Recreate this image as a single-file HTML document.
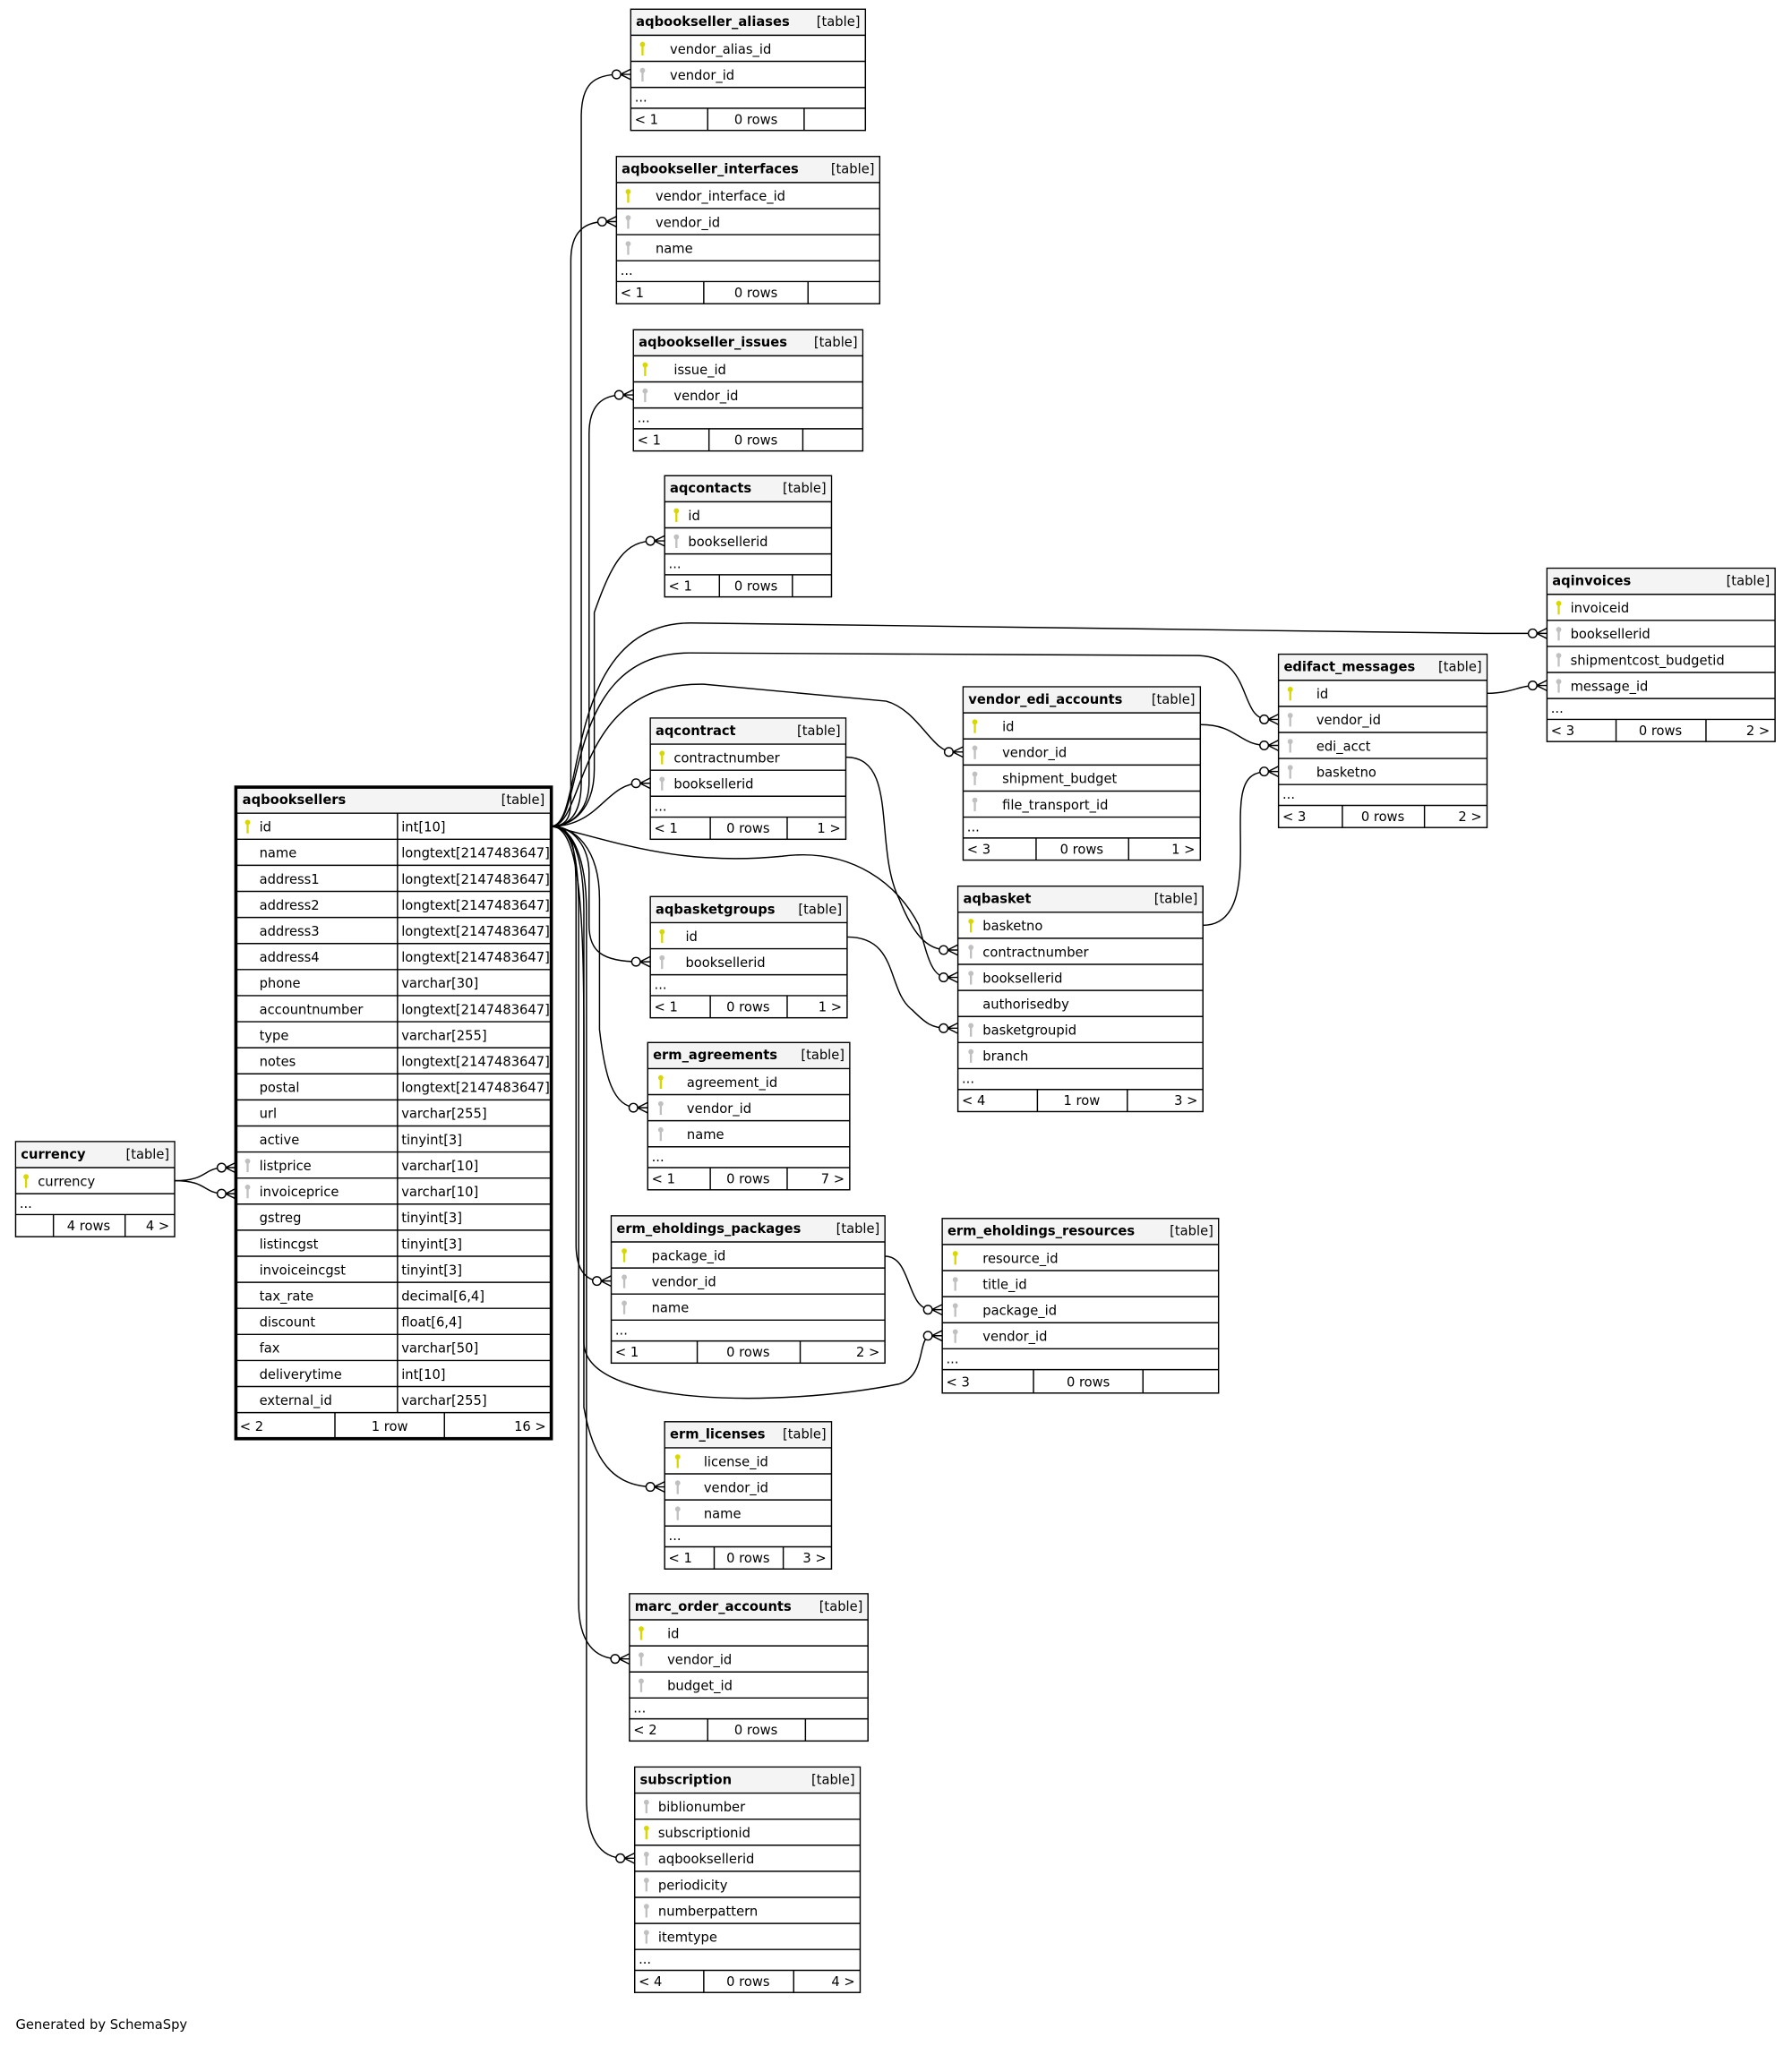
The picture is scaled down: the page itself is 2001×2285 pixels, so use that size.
<!DOCTYPE html>
<html><head><meta charset="utf-8"><style>
html,body{margin:0;padding:0;background:#fff;}
svg{display:block;}
text{font-family:"DejaVu Sans","Liberation Sans",sans-serif;font-size:10.1px;fill:#000;}
.b{font-weight:bold;}
.r{text-anchor:end;}
.m{text-anchor:middle;}
.h{fill:#f4f4f4;}
.t{fill:#fff;stroke:#000;stroke-width:1;}
.l{stroke:#000;stroke-width:1;fill:none;}
.c{stroke:#000;stroke-width:1;fill:none;}
</style></head><body>
<svg width="2001" height="2285" viewBox="0 0 1375 1570" xmlns="http://www.w3.org/2000/svg">
<defs>
<g id="pk"><circle cx="0" cy="-3" r="2" fill="#d8d800"/><rect x="-0.8" y="-2" width="1.6" height="7.5" fill="#d8d800"/></g>
<g id="fk"><circle cx="0" cy="-3" r="2" fill="#c0c0c0"/><rect x="-0.8" y="-2" width="1.6" height="7.5" fill="#c0c0c0"/></g>
<g id="cf"><path d="M-8,0 L0,-4 M-8,0 L0,0 M-8,0 L0,4" stroke="#000" stroke-width="1" fill="none"/><circle cx="-11" cy="0" r="3.3" fill="#fff" stroke="#000" stroke-width="1"/></g>
</defs>

<!-- connectors -->
<g class="c">
<path d="M423,634 C440,634 446,620 446,600 L446,90 C446,65 455,57 476,57"/>
<path d="M423,634 C440,634 438,620 438,600 L438,200 C438,178 448,170 465,170"/>
<path d="M423,634 C440,634 452,620 452,600 L452,333 C452,311 462,303 478,303"/>
<path d="M423,634 C440,634 456,620 456,590 L456,470 C470,430 480,415 502,415"/>
<path d="M423,634 C450,634 430,478 530,478 L1140,486 L1179,486"/>
<path d="M423,634 C450,634 430,500 530,501 L920,503 C962,505 950,552 973,552"/>
<path d="M423,634 C450,634 440,523 540,525 L680,538 C705,545 715,577 731,577"/>
<path d="M423,634 C460,634 465,601 491,601"/>
<path d="M423,634 C470,645 520,665 600,657 C655,650 690,680 705,710 C712,735 715,750 727,750"/>
<path d="M423,634 C440,634 452,650 452,670 L452,710 C452,730 462,738 491,738"/>
<path d="M423,634 C440,634 460,650 460,690 L460,790 C464,825 470,850 489,850"/>
<path d="M423,634 C440,634 442,650 442,690 L442,955 C442,975 450,983 461,983"/>
<path d="M423,634 C445,634 448,700 448,800 L448,1030 C448,1080 600,1080 690,1062 C712,1055 703,1025 715,1025"/>
<path d="M423,634 C440,634 448,660 448,700 L448,1080 C455,1120 470,1141 502,1141"/>
<path d="M423,634 C440,634 444,660 444,700 L444,1230 C444,1260 456,1273 475,1273"/>
<path d="M423,634 C440,634 450,660 450,700 L450,1380 C450,1410 460,1426 479,1426"/>
<path d="M649,581 C690,581 670,650 690,690 C700,715 710,729 727,729"/>
<path d="M650,719 C690,719 680,760 700,775 C710,785 715,789 727,789"/>
<path d="M923,710 C960,710 950,650 952,620 C953,598 960,592 973,592"/>
<path d="M921,556 C950,556 950,572 973,572"/>
<path d="M1141,532 C1160,532 1165,526 1179,526"/>
<path d="M679,964 C700,964 695,1005 715,1005"/>
<path d="M134,906 C160,906 155,896 173,896"/>
<path d="M134,906 C160,906 155,916 173,916"/>
</g>
<g>
<use href="#cf" x="484" y="57"/><use href="#cf" x="473" y="170"/><use href="#cf" x="486" y="303"/>
<use href="#cf" x="510" y="415"/><use href="#cf" x="1187" y="486"/><use href="#cf" x="981" y="552"/>
<use href="#cf" x="739" y="577"/><use href="#cf" x="499" y="601"/><use href="#cf" x="735" y="750"/>
<use href="#cf" x="499" y="738"/><use href="#cf" x="497" y="850"/><use href="#cf" x="469" y="983"/>
<use href="#cf" x="723" y="1025"/><use href="#cf" x="510" y="1141"/><use href="#cf" x="483" y="1273"/>
<use href="#cf" x="487" y="1426"/><use href="#cf" x="735" y="729"/><use href="#cf" x="735" y="789"/>
<use href="#cf" x="981" y="592"/><use href="#cf" x="981" y="572"/><use href="#cf" x="1187" y="526"/>
<use href="#cf" x="723" y="1005"/><use href="#cf" x="181" y="896"/><use href="#cf" x="181" y="916"/>
</g>

<!-- aqbookseller_aliases -->
<g>
<rect class="t" x="484" y="7" width="180" height="93"/>
<rect class="h" x="484.5" y="7.5" width="179" height="19.5"/>
<path class="l" d="M484,27H664M484,47H664M484,67H664M484,83H664M543,83V100M617,83V100"/>
<text class="b" x="488" y="20">aqbookseller_aliases</text><text class="r" x="660" y="20">[table]</text>
<use href="#pk" x="493" y="37"/><text x="514" y="41">vendor_alias_id</text>
<use href="#fk" x="493" y="57"/><text x="514" y="61">vendor_id</text>
<text x="487" y="78">...</text>
<text x="487" y="95">&lt; 1</text><text class="m" x="580" y="95">0 rows</text>
</g>

<!-- aqbookseller_interfaces -->
<g>
<rect class="t" x="473" y="120" width="202" height="113"/>
<rect class="h" x="473.5" y="120.5" width="201" height="19.5"/>
<path class="l" d="M473,140H675M473,160H675M473,180H675M473,200H675M473,216H675M540,216V233M620,216V233"/>
<text class="b" x="477" y="133">aqbookseller_interfaces</text><text class="r" x="671" y="133">[table]</text>
<use href="#pk" x="482" y="150"/><text x="503" y="154">vendor_interface_id</text>
<use href="#fk" x="482" y="170"/><text x="503" y="174">vendor_id</text>
<use href="#fk" x="482" y="190"/><text x="503" y="194">name</text>
<text x="476" y="211">...</text>
<text x="476" y="228">&lt; 1</text><text class="m" x="580" y="228">0 rows</text>
</g>

<!-- aqbookseller_issues -->
<g>
<rect class="t" x="486" y="253" width="176" height="93"/>
<rect class="h" x="486.5" y="253.5" width="175" height="19.5"/>
<path class="l" d="M486,273H662M486,293H662M486,313H662M486,329H662M544,329V346M616,329V346"/>
<text class="b" x="490" y="266">aqbookseller_issues</text><text class="r" x="658" y="266">[table]</text>
<use href="#pk" x="495" y="283"/><text x="517" y="287">issue_id</text>
<use href="#fk" x="495" y="303"/><text x="517" y="307">vendor_id</text>
<text x="489" y="324">...</text>
<text x="489" y="341">&lt; 1</text><text class="m" x="580" y="341">0 rows</text>
</g>

<!-- aqcontacts -->
<g>
<rect class="t" x="510" y="365" width="128" height="93"/>
<rect class="h" x="510.5" y="365.5" width="127" height="19.5"/>
<path class="l" d="M510,385H638M510,405H638M510,425H638M510,441H638M552,441V458M608,441V458"/>
<text class="b" x="514" y="378">aqcontacts</text><text class="r" x="634" y="378">[table]</text>
<use href="#pk" x="519" y="395"/><text x="528" y="399">id</text>
<use href="#fk" x="519" y="415"/><text x="528" y="419">booksellerid</text>
<text x="513" y="436">...</text>
<text x="513" y="453">&lt; 1</text><text class="m" x="580" y="453">0 rows</text>
</g>

<!-- aqinvoices -->
<g>
<rect class="t" x="1187" y="436" width="175" height="133"/>
<rect class="h" x="1187.5" y="436.5" width="174" height="19.5"/>
<path class="l" d="M1187,456H1362M1187,476H1362M1187,496H1362M1187,516H1362M1187,536H1362M1187,552H1362M1240,552V569M1309,552V569"/>
<text class="b" x="1191" y="449">aqinvoices</text><text class="r" x="1358" y="449">[table]</text>
<use href="#pk" x="1196" y="466"/><text x="1205" y="470">invoiceid</text>
<use href="#fk" x="1196" y="486"/><text x="1205" y="490">booksellerid</text>
<use href="#fk" x="1196" y="506"/><text x="1205" y="510">shipmentcost_budgetid</text>
<use href="#fk" x="1196" y="526"/><text x="1205" y="530">message_id</text>
<text x="1190" y="547">...</text>
<text x="1190" y="564">&lt; 3</text><text class="m" x="1274" y="564">0 rows</text><text class="r" x="1358" y="564">2 &gt;</text>
</g>

<!-- edifact_messages -->
<g>
<rect class="t" x="981" y="502" width="160" height="133"/>
<rect class="h" x="981.5" y="502.5" width="159" height="19.5"/>
<path class="l" d="M981,522H1141M981,542H1141M981,562H1141M981,582H1141M981,602H1141M981,618H1141M1030,618V635M1093,618V635"/>
<text class="b" x="985" y="515">edifact_messages</text><text class="r" x="1137" y="515">[table]</text>
<use href="#pk" x="990" y="532"/><text x="1010" y="536">id</text>
<use href="#fk" x="990" y="552"/><text x="1010" y="556">vendor_id</text>
<use href="#fk" x="990" y="572"/><text x="1010" y="576">edi_acct</text>
<use href="#fk" x="990" y="592"/><text x="1010" y="596">basketno</text>
<text x="984" y="613">...</text>
<text x="984" y="630">&lt; 3</text><text class="m" x="1061" y="630">0 rows</text><text class="r" x="1137" y="630">2 &gt;</text>
</g>

<!-- vendor_edi_accounts -->
<g>
<rect class="t" x="739" y="527" width="182" height="133"/>
<rect class="h" x="739.5" y="527.5" width="181" height="19.5"/>
<path class="l" d="M739,547H921M739,567H921M739,587H921M739,607H921M739,627H921M739,643H921M795,643V660M866,643V660"/>
<text class="b" x="743" y="540">vendor_edi_accounts</text><text class="r" x="917" y="540">[table]</text>
<use href="#pk" x="748" y="557"/><text x="769" y="561">id</text>
<use href="#fk" x="748" y="577"/><text x="769" y="581">vendor_id</text>
<use href="#fk" x="748" y="597"/><text x="769" y="601">shipment_budget</text>
<use href="#fk" x="748" y="617"/><text x="769" y="621">file_transport_id</text>
<text x="742" y="638">...</text>
<text x="742" y="655">&lt; 3</text><text class="m" x="830" y="655">0 rows</text><text class="r" x="917" y="655">1 &gt;</text>
</g>

<!-- aqcontract -->
<g>
<rect class="t" x="499" y="551" width="150" height="93"/>
<rect class="h" x="499.5" y="551.5" width="149" height="19.5"/>
<path class="l" d="M499,571H649M499,591H649M499,611H649M499,627H649M545,627V644M604,627V644"/>
<text class="b" x="503" y="564">aqcontract</text><text class="r" x="645" y="564">[table]</text>
<use href="#pk" x="508" y="581"/><text x="517" y="585">contractnumber</text>
<use href="#fk" x="508" y="601"/><text x="517" y="605">booksellerid</text>
<text x="502" y="622">...</text>
<text x="502" y="639">&lt; 1</text><text class="m" x="574" y="639">0 rows</text><text class="r" x="645" y="639">1 &gt;</text>
</g>

<!-- aqbooksellers -->
<g>
<rect x="181" y="604" width="242" height="500" fill="#fff" stroke="#000" stroke-width="2.5"/>
<rect class="h" x="182.3" y="605.3" width="239.4" height="18.7"/>
<path class="l" d="M181,624H423M181,644H423M181,664H423M181,684H423M181,704H423M181,724H423M181,744H423M181,764H423M181,784H423M181,804H423M181,824H423M181,844H423M181,864H423M181,884H423M181,904H423M181,924H423M181,944H423M181,964H423M181,984H423M181,1004H423M181,1024H423M181,1044H423M181,1064H423M181,1084H423M305,624V1084M257,1084V1104M341,1084V1104"/>
<text class="b" x="186" y="617">aqbooksellers</text><text class="r" x="418" y="617">[table]</text>
<use href="#pk" x="190" y="634"/><text x="199" y="638">id</text><text x="308" y="638">int[10]</text>
<text x="199" y="658">name</text><text x="308" y="658">longtext[2147483647]</text>
<text x="199" y="678">address1</text><text x="308" y="678">longtext[2147483647]</text>
<text x="199" y="698">address2</text><text x="308" y="698">longtext[2147483647]</text>
<text x="199" y="718">address3</text><text x="308" y="718">longtext[2147483647]</text>
<text x="199" y="738">address4</text><text x="308" y="738">longtext[2147483647]</text>
<text x="199" y="758">phone</text><text x="308" y="758">varchar[30]</text>
<text x="199" y="778">accountnumber</text><text x="308" y="778">longtext[2147483647]</text>
<text x="199" y="798">type</text><text x="308" y="798">varchar[255]</text>
<text x="199" y="818">notes</text><text x="308" y="818">longtext[2147483647]</text>
<text x="199" y="838">postal</text><text x="308" y="838">longtext[2147483647]</text>
<text x="199" y="858">url</text><text x="308" y="858">varchar[255]</text>
<text x="199" y="878">active</text><text x="308" y="878">tinyint[3]</text>
<use href="#fk" x="190" y="894"/><text x="199" y="898">listprice</text><text x="308" y="898">varchar[10]</text>
<use href="#fk" x="190" y="914"/><text x="199" y="918">invoiceprice</text><text x="308" y="918">varchar[10]</text>
<text x="199" y="938">gstreg</text><text x="308" y="938">tinyint[3]</text>
<text x="199" y="958">listincgst</text><text x="308" y="958">tinyint[3]</text>
<text x="199" y="978">invoiceincgst</text><text x="308" y="978">tinyint[3]</text>
<text x="199" y="998">tax_rate</text><text x="308" y="998">decimal[6,4]</text>
<text x="199" y="1018">discount</text><text x="308" y="1018">float[6,4]</text>
<text x="199" y="1038">fax</text><text x="308" y="1038">varchar[50]</text>
<text x="199" y="1058">deliverytime</text><text x="308" y="1058">int[10]</text>
<text x="199" y="1078">external_id</text><text x="308" y="1078">varchar[255]</text>
<text x="184" y="1098">&lt; 2</text><text class="m" x="299" y="1098">1 row</text><text class="r" x="419" y="1098">16 &gt;</text>
</g>

<!-- aqbasket -->
<g>
<rect class="t" x="735" y="680" width="188" height="173"/>
<rect class="h" x="735.5" y="680.5" width="187" height="19.5"/>
<path class="l" d="M735,700H923M735,720H923M735,740H923M735,760H923M735,780H923M735,800H923M735,820H923M735,836H923M796,836V853M865,836V853"/>
<text class="b" x="739" y="693">aqbasket</text><text class="r" x="919" y="693">[table]</text>
<use href="#pk" x="745" y="710"/><text x="754" y="714">basketno</text>
<use href="#fk" x="745" y="730"/><text x="754" y="734">contractnumber</text>
<use href="#fk" x="745" y="750"/><text x="754" y="754">booksellerid</text>
<text x="754" y="774">authorisedby</text>
<use href="#fk" x="745" y="790"/><text x="754" y="794">basketgroupid</text>
<use href="#fk" x="745" y="810"/><text x="754" y="814">branch</text>
<text x="738" y="831">...</text>
<text x="738" y="848">&lt; 4</text><text class="m" x="830" y="848">1 row</text><text class="r" x="919" y="848">3 &gt;</text>
</g>

<!-- aqbasketgroups -->
<g>
<rect class="t" x="499" y="688" width="151" height="93"/>
<rect class="h" x="499.5" y="688.5" width="150" height="19.5"/>
<path class="l" d="M499,708H650M499,728H650M499,748H650M499,764H650M545,764V781M604,764V781"/>
<text class="b" x="503" y="701">aqbasketgroups</text><text class="r" x="646" y="701">[table]</text>
<use href="#pk" x="508" y="718"/><text x="526" y="722">id</text>
<use href="#fk" x="508" y="738"/><text x="526" y="742">booksellerid</text>
<text x="502" y="759">...</text>
<text x="502" y="776">&lt; 1</text><text class="m" x="574" y="776">0 rows</text><text class="r" x="646" y="776">1 &gt;</text>
</g>

<!-- erm_agreements -->
<g>
<rect class="t" x="497" y="800" width="155" height="113"/>
<rect class="h" x="497.5" y="800.5" width="154" height="19.5"/>
<path class="l" d="M497,820H652M497,840H652M497,860H652M497,880H652M497,896H652M545,896V913M604,896V913"/>
<text class="b" x="501" y="813">erm_agreements</text><text class="r" x="648" y="813">[table]</text>
<use href="#pk" x="507" y="830"/><text x="527" y="834">agreement_id</text>
<use href="#fk" x="507" y="850"/><text x="527" y="854">vendor_id</text>
<use href="#fk" x="507" y="870"/><text x="527" y="874">name</text>
<text x="500" y="891">...</text>
<text x="500" y="908">&lt; 1</text><text class="m" x="574" y="908">0 rows</text><text class="r" x="648" y="908">7 &gt;</text>
</g>

<!-- currency -->
<g>
<rect class="t" x="12" y="876" width="122" height="73"/>
<rect class="h" x="12.5" y="876.5" width="121" height="19.5"/>
<path class="l" d="M12,896H134M12,916H134M12,932H134M41,932V949M96,932V949"/>
<text class="b" x="16" y="889">currency</text><text class="r" x="130" y="889">[table]</text>
<use href="#pk" x="20" y="906"/><text x="29" y="910">currency</text>
<text x="15" y="927">...</text>
<text class="m" x="68" y="944">4 rows</text><text class="r" x="130" y="944">4 &gt;</text>
</g>

<!-- erm_eholdings_packages -->
<g>
<rect class="t" x="469" y="933" width="210" height="113"/>
<rect class="h" x="469.5" y="933.5" width="209" height="19.5"/>
<path class="l" d="M469,953H679M469,973H679M469,993H679M469,1013H679M469,1029H679M535,1029V1046M614,1029V1046"/>
<text class="b" x="473" y="946">erm_eholdings_packages</text><text class="r" x="675" y="946">[table]</text>
<use href="#pk" x="479" y="963"/><text x="500" y="967">package_id</text>
<use href="#fk" x="479" y="983"/><text x="500" y="987">vendor_id</text>
<use href="#fk" x="479" y="1003"/><text x="500" y="1007">name</text>
<text x="472" y="1024">...</text>
<text x="472" y="1041">&lt; 1</text><text class="m" x="574" y="1041">0 rows</text><text class="r" x="675" y="1041">2 &gt;</text>
</g>

<!-- erm_eholdings_resources -->
<g>
<rect class="t" x="723" y="935" width="212" height="134"/>
<rect class="h" x="723.5" y="935.5" width="211" height="19.5"/>
<path class="l" d="M723,955H935M723,975H935M723,995H935M723,1015H935M723,1035H935M723,1051H935M793,1051V1069M877,1051V1069"/>
<text class="b" x="727" y="948">erm_eholdings_resources</text><text class="r" x="931" y="948">[table]</text>
<use href="#pk" x="733" y="965"/><text x="754" y="969">resource_id</text>
<use href="#fk" x="733" y="985"/><text x="754" y="989">title_id</text>
<use href="#fk" x="733" y="1005"/><text x="754" y="1009">package_id</text>
<use href="#fk" x="733" y="1025"/><text x="754" y="1029">vendor_id</text>
<text x="726" y="1046">...</text>
<text x="726" y="1064">&lt; 3</text><text class="m" x="835" y="1064">0 rows</text>
</g>

<!-- erm_licenses -->
<g>
<rect class="t" x="510" y="1091" width="128" height="113"/>
<rect class="h" x="510.5" y="1091.5" width="127" height="19.5"/>
<path class="l" d="M510,1111H638M510,1131H638M510,1151H638M510,1171H638M510,1187H638M548,1187V1204M601,1187V1204"/>
<text class="b" x="514" y="1104">erm_licenses</text><text class="r" x="634" y="1104">[table]</text>
<use href="#pk" x="520" y="1121"/><text x="540" y="1125">license_id</text>
<use href="#fk" x="520" y="1141"/><text x="540" y="1145">vendor_id</text>
<use href="#fk" x="520" y="1161"/><text x="540" y="1165">name</text>
<text x="513" y="1182">...</text>
<text x="513" y="1199">&lt; 1</text><text class="m" x="574" y="1199">0 rows</text><text class="r" x="634" y="1199">3 &gt;</text>
</g>

<!-- marc_order_accounts -->
<g>
<rect class="t" x="483" y="1223" width="183" height="113"/>
<rect class="h" x="483.5" y="1223.5" width="182" height="19.5"/>
<path class="l" d="M483,1243H666M483,1263H666M483,1283H666M483,1303H666M483,1319H666M543,1319V1336M618,1319V1336"/>
<text class="b" x="487" y="1236">marc_order_accounts</text><text class="r" x="662" y="1236">[table]</text>
<use href="#pk" x="492" y="1253"/><text x="512" y="1257">id</text>
<use href="#fk" x="492" y="1273"/><text x="512" y="1277">vendor_id</text>
<use href="#fk" x="492" y="1293"/><text x="512" y="1297">budget_id</text>
<text x="486" y="1314">...</text>
<text x="486" y="1331">&lt; 2</text><text class="m" x="580" y="1331">0 rows</text>
</g>

<!-- subscription -->
<g>
<rect class="t" x="487" y="1356" width="173" height="173"/>
<rect class="h" x="487.5" y="1356.5" width="172" height="19.5"/>
<path class="l" d="M487,1376H660M487,1396H660M487,1416H660M487,1436H660M487,1456H660M487,1476H660M487,1496H660M487,1512H660M540,1512V1529M609,1512V1529"/>
<text class="b" x="491" y="1369">subscription</text><text class="r" x="656" y="1369">[table]</text>
<use href="#fk" x="496" y="1386"/><text x="505" y="1390">biblionumber</text>
<use href="#pk" x="496" y="1406"/><text x="505" y="1410">subscriptionid</text>
<use href="#fk" x="496" y="1426"/><text x="505" y="1430">aqbooksellerid</text>
<use href="#fk" x="496" y="1446"/><text x="505" y="1450">periodicity</text>
<use href="#fk" x="496" y="1466"/><text x="505" y="1470">numberpattern</text>
<use href="#fk" x="496" y="1486"/><text x="505" y="1490">itemtype</text>
<text x="490" y="1507">...</text>
<text x="490" y="1524">&lt; 4</text><text class="m" x="574" y="1524">0 rows</text><text class="r" x="656" y="1524">4 &gt;</text>
</g>

<text x="12" y="1557">Generated by SchemaSpy</text>
</svg>
</body></html>
